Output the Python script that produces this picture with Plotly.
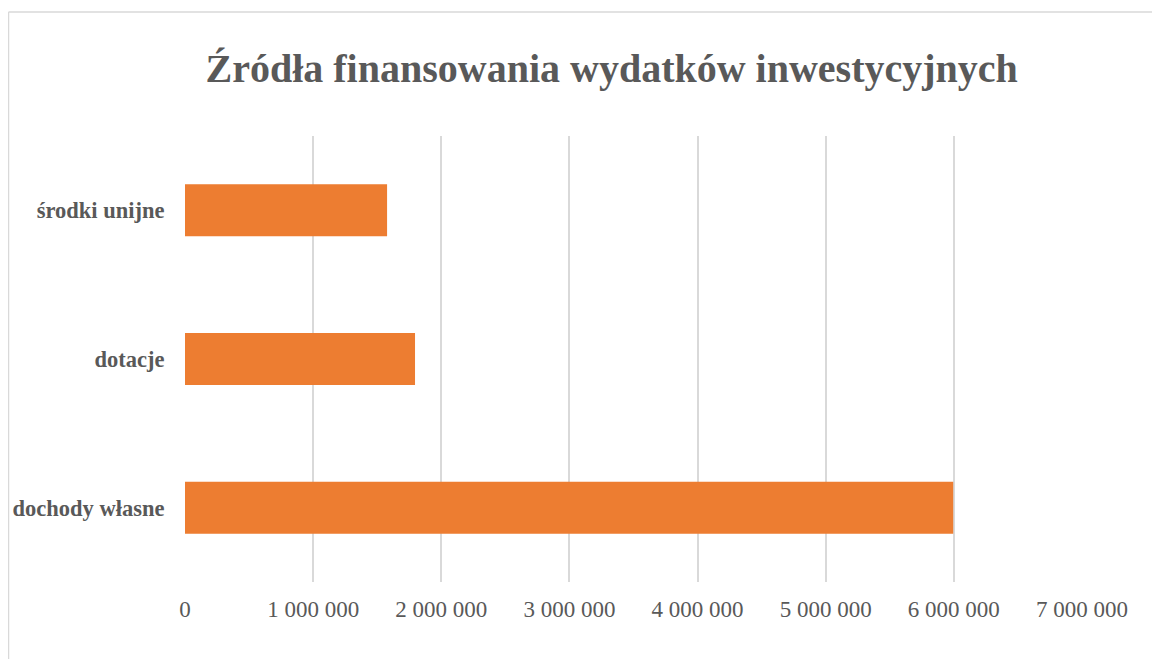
import plotly.graph_objects as go

# Dane
kategorie = ['dochody własne', 'dotacje', 'środki unijne']
wartosci = [5995000, 1795000, 1577000]
ticki = [0, 1000000, 2000000, 3000000, 4000000, 5000000, 6000000, 7000000]

SZARY = '#595959'
POMARANCZ = '#ED7D31'
LINIA = '#D9D9D9'
FONT = 'Liberation Serif, Times New Roman, serif'

# strona ma 8 px marginesu, więc figura jest o tyle mniejsza
W, H = 1152, 651
ML, MR, MT, MB = 177, 78, 128, 77
pw, ph = W - ML - MR, H - MT - MB

# ramka wykresu (górna i lewa krawędź), w pikselach figury
ramka_x, ramka_y = 0.5, 4
rx = (ramka_x - ML) / pw
ry = (ph + MT - ramka_y) / ph

fig = go.Figure()
fig.add_trace(go.Bar(
    x=wartosci, y=kategorie,
    orientation='h',
    width=0.35,
    marker=dict(color=POMARANCZ, line=dict(width=0)),
    showlegend=False,
))

fig.update_layout(
    width=W, height=H,
    paper_bgcolor='white', plot_bgcolor='white',
    margin=dict(l=ML, r=MR, t=MT, b=MB),
    separators=', ',
    title=dict(
        text='<b>Źródła finansowania wydatków inwestycyjnych</b>',
        x=0.524, xanchor='center', y=0.908, yanchor='middle',
        font=dict(family=FONT, size=40, color=SZARY),
    ),
    font=dict(family=FONT, color=SZARY),
    shapes=[
        dict(type='line', xref='paper', yref='paper',
             x0=rx, x1=(W - ML + 5) / pw, y0=ry, y1=ry,
             line=dict(color=LINIA, width=1.5)),
        dict(type='line', xref='paper', yref='paper',
             x0=rx, x1=rx, y0=ry, y1=-MB / ph - 0.05,
             line=dict(color=LINIA, width=1.5)),
    ],
)
fig.update_xaxes(
    range=[0, 7000000], tickvals=ticki, tickformat=',d',
    showgrid=True, gridcolor=LINIA, gridwidth=1.5,
    zeroline=False, showline=False, automargin=False,
    ticks='outside', ticklen=6, tickcolor='rgba(0,0,0,0)',
    tickfont=dict(family=FONT, size=23, color=SZARY),
)
fig.update_yaxes(
    range=[-0.5, 2.5], automargin=False,
    showgrid=False, zeroline=False, showline=False, ticks='outside',
    ticklen=15, tickcolor='rgba(0,0,0,0)',
    tickfont=dict(family=FONT, size=22.5, color=SZARY),
    tickvals=kategorie, ticktext=[f'<b>{k}</b>' for k in kategorie],
)

fig.write_html('out.html')
